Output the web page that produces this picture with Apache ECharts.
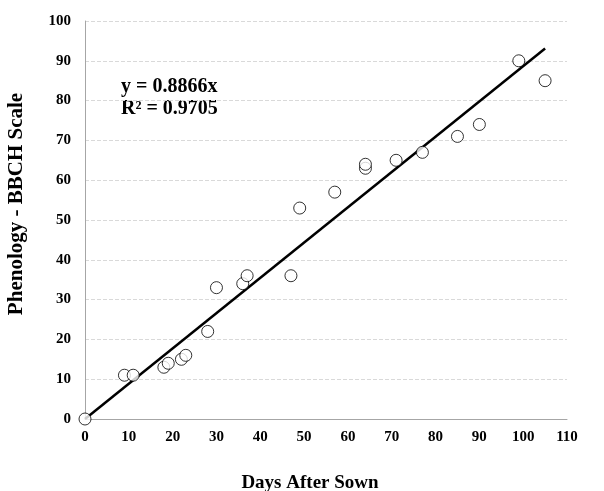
<!DOCTYPE html>
<html><head><meta charset="utf-8">
<script src="https://cdn.jsdelivr.net/npm/echarts@6/dist/echarts.min.js"></script>
<style>html,body{margin:0;padding:0;background:#fff}#c{width:604px;height:491px}</style>
</head><body><div id="c"></div>
<script>
var daysAfterSown = [0, 9, 11, 18, 19, 22, 23, 28, 30, 36, 37, 47, 49, 57, 64, 64, 71, 77, 85, 90, 99, 105];
var bbchScale     = [0, 11, 11, 13, 14, 15, 16, 22, 33, 34, 36, 36, 53, 57, 63, 64, 65, 67, 71, 74, 90, 85];
var slope = 0.8866;
var trendX = [0, 105];
var xTicks = [0, 10, 20, 30, 40, 50, 60, 70, 80, 90, 100, 110];
var yTicks = [0, 10, 20, 30, 40, 50, 60, 70, 80, 90, 100];
var xTitle = 'Days After Sown';
var yTitle = 'Phenology - BBCH Scale';
var equation = 'y = 0.8866x';
var rSquared = 'R² = 0.9705';

var points = daysAfterSown.map(function(d, i){ return [d, bbchScale[i]]; });
var trend = trendX.map(function(x){ return [x, slope * x]; });
var font = '"Liberation Serif", "Times New Roman", serif';

var chart = echarts.init(document.getElementById('c'));
chart.setOption({
  animation: false,
  backgroundColor: '#fff',
  grid: {left: 85, right: 37, top: 21, bottom: 72, containLabel: false},
  xAxis: {
    type: 'value', min: xTicks[0], max: xTicks[xTicks.length - 1], interval: 10,
    axisLine: {show: true, lineStyle: {color: '#a6a6a6', width: 1}},
    axisTick: {show: false},
    splitLine: {show: false},
    axisLabel: {fontFamily: font, fontWeight: 'bold', fontSize: 15, color: '#000', margin: 11}
  },
  yAxis: {
    type: 'value', min: yTicks[0], max: yTicks[yTicks.length - 1], interval: 10,
    axisLine: {show: true, lineStyle: {color: '#a6a6a6', width: 1}},
    axisTick: {show: false},
    splitLine: {show: true, lineStyle: {color: '#d9d9d9', type: 'dashed', width: 1}},
    axisLabel: {fontFamily: font, fontWeight: 'bold', fontSize: 15, color: '#000', margin: 14}
  },
  graphic: [{
    type: 'text', left: 121, top: 76,
    style: {text: equation + '\n' + rSquared, fontFamily: font, fontWeight: 'bold', fontSize: 20, lineHeight: 22, fill: '#000'}
  }, {
    type: 'text', x: 310, y: 483,
    style: {text: xTitle, fontFamily: font, fontWeight: 'bold', fontSize: 19, fill: '#000', align: 'center', verticalAlign: 'middle'}
  }, {
    type: 'text', x: 17, y: 204, rotation: Math.PI / 2,
    style: {text: yTitle, fontFamily: font, fontWeight: 'bold', fontSize: 21, fill: '#000', align: 'center', verticalAlign: 'middle'}
  }],
  series: [{
    type: 'line', data: trend, showSymbol: false, symbol: 'none',
    lineStyle: {color: '#000', width: 2.5}, z: 2
  }, {
    type: 'scatter', data: points, symbol: 'circle', symbolSize: 12,
    itemStyle: {color: '#fff', borderColor: '#000', borderWidth: 1}, z: 3
  }]
});
</script></body></html>
